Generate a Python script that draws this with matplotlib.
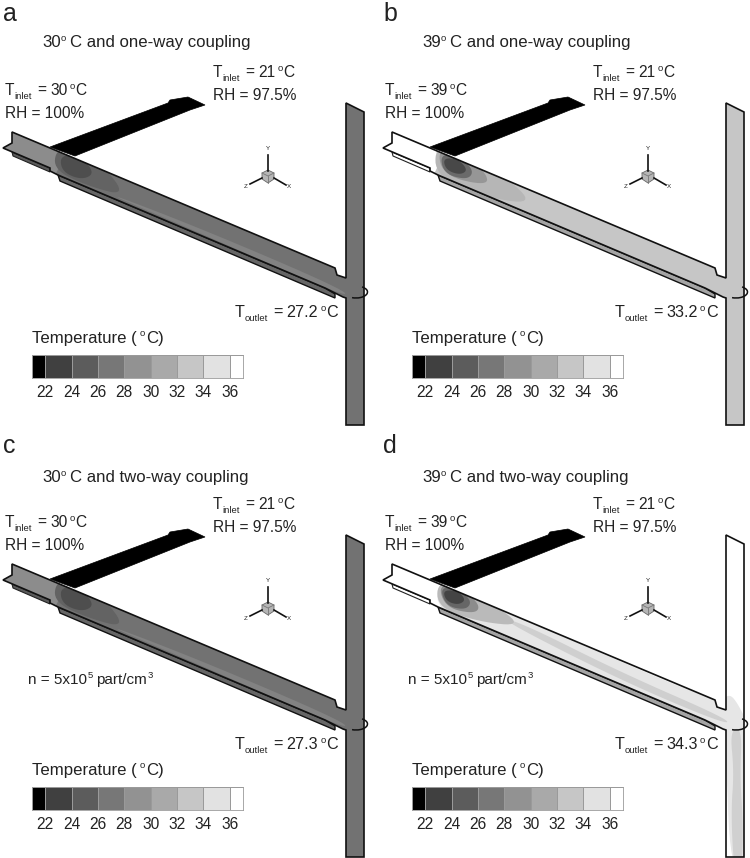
import numpy as np
import matplotlib
matplotlib.use('Agg')
import matplotlib.pyplot as plt
from matplotlib.colors import ListedColormap
from matplotlib.patches import Polygon, Arc

plt.rcParams['font.family'] = ['Liberation Sans', 'DejaVu Sans']

# panel data
panel_labels = ['a', 'b', 'c', 'd']
panel_temps = ['30', '39', '30', '39']
coupling = ['one-way', 'one-way', 'two-way', 'two-way']
t_outlet = ['27.2', '33.2', '27.3', '34.3']
offset_x = [0, 380, 0, 380]
offset_y = [0, 0, 432, 432]
has_density = [False, False, True, True]

# colorbar
cbar_levels = [21, 22, 24, 26, 28, 30, 32, 34, 36, 37]
cbar_greys = ['#000000', '#404040', '#5c5c5c', '#777777', '#929292',
              '#a9a9a9', '#c6c6c6', '#e2e2e2', '#ffffff']
cbar_ticks = [22, 24, 26, 28, 30, 32, 34, 36]

# geometry of the duct, in pixels of panel a
inlet_xy = [(50, 147), (168, 103), (170, 100), (188, 97), (205, 105), (190, 110), (75, 156)]
duct_xy = [(12, 132), (335, 268), (337, 275), (346, 278), (346, 103), (364, 112),
           (364, 425), (346, 425), (346, 298), (343, 297), (325, 288),
           (58, 175), (50, 171), (50, 168), (3, 148), (12, 143)]
left_band_xy = [(12, 152), (13, 156), (50, 172), (50, 168)]
low_band_xy = [(58, 175), (60, 181), (335, 298), (335, 294), (325, 288)]

duct_grey = ['#727272', '#c6c6c6', '#727272', '#ffffff']
band_grey = ['#666666', '#a4a4a4', '#666666', '#a4a4a4']
left_grey = ['#5a5a5a', '#ffffff', '#5a5a5a', '#ffffff']

# temperature patches inside the duct
warm_a = [('#8c8c8c', [(-5, 148), (8, 122), (66, 146), (54, 182), (40, 172)]),
          ('#828282', [(90, 186), (200, 233), (345, 297), (345, 290), (200, 228)]),
          ('#636363', [(56, 149), (76, 150), (104, 166), (126, 196), (88, 186), (54, 170)]),
          ('#4e4e4e', [(60, 155), (80, 156), (95, 173), (82, 180), (62, 172)])]
warm_b = [('#ffffff', [(-5, 140), (8, 122), (62, 146), (53, 185), (0, 160)]),
          ('#b6b6b6', [(55, 146), (82, 150), (125, 176), (155, 205), (100, 196), (56, 176)]),
          ('#969696', [(57, 150), (78, 152), (106, 172), (108, 186), (64, 176)]),
          ('#6a6a6a', [(60, 154), (78, 156), (94, 170), (88, 180), (64, 174)]),
          ('#484848', [(63, 158), (78, 159), (88, 170), (80, 175), (66, 170)])]
warm_c = [('#8c8c8c', [(-5, 148), (8, 122), (66, 146), (54, 182), (40, 172)]),
          ('#828282', [(90, 186), (200, 233), (345, 297), (345, 290), (200, 228)]),
          ('#636363', [(56, 149), (76, 150), (104, 166), (126, 196), (88, 186), (54, 170)]),
          ('#4e4e4e', [(60, 155), (80, 156), (95, 173), (82, 180), (62, 172)])]
warm_d = [('#e6e6e6', [(55, 146), (100, 168), (200, 212), (340, 272), (348, 262), (356, 268),
                       (372, 300), (372, 440), (350, 440), (346, 310), (330, 296), (200, 250), (60, 186)]),
          ('#cfcfcf', [(118, 186), (140, 190), (240, 240), (350, 288), (344, 292), (240, 248)]),
          ('#d0d0d0', [(350, 298), (362, 296), (360, 345), (363, 390), (362, 440), (354, 440),
                       (351, 380), (354, 340)]),
          ('#bababa', [(57, 150), (80, 153), (115, 173), (142, 194), (100, 190), (58, 176)]),
          ('#8c8c8c', [(58, 153), (78, 154), (100, 172), (96, 182), (66, 176)]),
          ('#666666', [(60, 155), (78, 157), (92, 169), (86, 178), (66, 174)]),
          ('#444444', [(63, 158), (78, 159), (86, 168), (78, 173), (66, 169)])]
warm_patches = [warm_a, warm_b, warm_c, warm_d]

text_col = '#222222'
main_size = 11.2
title_size = 12.1
outlet_size = 11.6
small_size = 6.8


def smooth(points, rounds=3):
    # corner cutting so the patches look like contours, not polygons
    pts = np.array(points, dtype=float)
    for _ in range(rounds):
        nxt = np.roll(pts, -1, axis=0)
        pts = np.column_stack((0.75 * pts + 0.25 * nxt, 0.25 * pts + 0.75 * nxt)).reshape(-1, 2)
    return pts


fig = plt.figure(figsize=(7.5, 8.58), dpi=100)
ax = fig.add_axes([0, 0, 1, 1])
ax.set_xlim(0, 750)
ax.set_ylim(858, 0)
ax.axis('off')
renderer = fig.canvas.get_renderer()


def rich(x, y, pieces):
    # pieces are (text, size, rise in pixels, gap after in pixels)
    for s, size, rise, gap in pieces:
        t = ax.text(x, y - rise, s, fontsize=size, color=text_col, va='baseline', ha='left')
        x += t.get_window_extent(renderer).width + gap


def temp_label(x, y, sub, value, size):
    rich(x, y, [('T', size, 0, 0), (sub, small_size, -4, 5), ('=', size, 0, 4),
                (value, size, 0, 2), ('o', small_size, 6, 1), ('C', size, 0, 0)])


for i in range(4):
    off = np.array([offset_x[i], offset_y[i]])

    ax.add_patch(Polygon(np.array(inlet_xy) + off, closed=True, fc='black', ec='black', lw=0.5))
    ax.add_patch(Polygon(np.array(left_band_xy) + off, closed=True, fc=left_grey[i], ec='#222222', lw=0.8))
    ax.add_patch(Polygon(np.array(low_band_xy) + off, closed=True, fc=band_grey[i], ec='#111111', lw=1.0))

    body = Polygon(np.array(duct_xy) + off, closed=True, fc=duct_grey[i], ec='none')
    ax.add_patch(body)
    for grey, pts in warm_patches[i]:
        blob = Polygon(smooth(pts) + off, closed=True, fc=grey, ec='none')
        ax.add_patch(blob)
        blob.set_clip_path(body)
    ax.add_patch(Polygon(np.array(duct_xy) + off, closed=True, fc='none', ec='#111111', lw=1.2))

    ax.add_patch(Arc((356 + off[0], 292 + off[1]), 23, 12, theta1=-40, theta2=125, ec='#111111', lw=1.1))

    # axis triad
    cx, cy = 268 + off[0], 176 + off[1]
    ax.plot([cx, cx], [cy - 5, cy - 21], color='#111111', lw=1.2)
    ax.plot([cx - 6, cx - 18], [cy + 2, cy + 8], color='#111111', lw=1.2)
    ax.plot([cx + 6, cx + 18], [cy + 2, cy + 9], color='#111111', lw=1.2)
    ax.add_patch(Polygon([(cx - 6, cy - 3), (cx, cy - 6), (cx + 6, cy - 3), (cx + 6, cy + 3),
                          (cx, cy + 7), (cx - 6, cy + 3)], closed=True, fc='#b5b5b5', ec='#666666', lw=0.6))
    ax.plot([cx - 6, cx, cx + 6], [cy - 3, cy, cy - 3], color='#777777', lw=0.6)
    ax.plot([cx, cx], [cy, cy + 7], color='#777777', lw=0.6)
    ax.text(cx, cy - 27, 'Y', fontsize=4.5, ha='center', va='center', color=text_col)
    ax.text(cx - 22, cy + 10, 'Z', fontsize=4.5, ha='center', va='center', color=text_col)
    ax.text(cx + 21, cy + 10, 'X', fontsize=4.5, ha='center', va='center', color=text_col)

    # labels
    tx, ty = off
    title_shift = 3 if i >= 2 else 0
    ax.text(tx + 3, ty + 21, panel_labels[i], fontsize=18, color=text_col, va='baseline')
    rich(tx + 42, ty + 47 + title_shift, [(panel_temps[i], title_size, 0, 0), ('o', small_size, 6, 4),
                                          ('C and ' + coupling[i] + ' coupling', title_size, 0, 0)])
    temp_label(tx + 213, ty + 77, 'inlet', '21', main_size)
    ax.text(tx + 213, ty + 100, 'RH = 97.5%', fontsize=main_size, color=text_col, va='baseline')
    temp_label(tx + 5, ty + 95, 'inlet', panel_temps[i], main_size)
    ax.text(tx + 5, ty + 118, 'RH = 100%', fontsize=main_size, color=text_col, va='baseline')
    temp_label(tx + 235, ty + 317, 'outlet', t_outlet[i], outlet_size)
    rich(tx + 32, ty + 343, [('Temperature (', 12.1, 0, 3), ('o', small_size, 7, 1), ('C)', 12.1, 0, 0)])
    if has_density[i]:
        rich(tx + 28, ty + 252, [('n = 5x10', 11, 0, 1), ('5', small_size, 6, 3),
                                 ('part/cm', 11, 0, 1), ('3', small_size, 6, 0)])

    # colorbar
    cax = fig.add_axes([(tx + 32) / 750, 1 - (ty + 378) / 858, 211 / 750, 23 / 858])
    cax.pcolormesh(cbar_levels, [0, 1], [list(range(9))], cmap=ListedColormap(cbar_greys),
                   edgecolors='#9a9a9a', linewidth=0.6)
    cax.set_xlim(cbar_levels[0], cbar_levels[-1])
    cax.set_yticks([])
    cax.set_xticks(cbar_ticks)
    cax.tick_params(axis='x', length=0, pad=5, labelsize=main_size, labelcolor=text_col)
    for spine in cax.spines.values():
        spine.set_color('#9a9a9a')
        spine.set_linewidth(0.6)

fig.savefig('out.png', dpi=100)
